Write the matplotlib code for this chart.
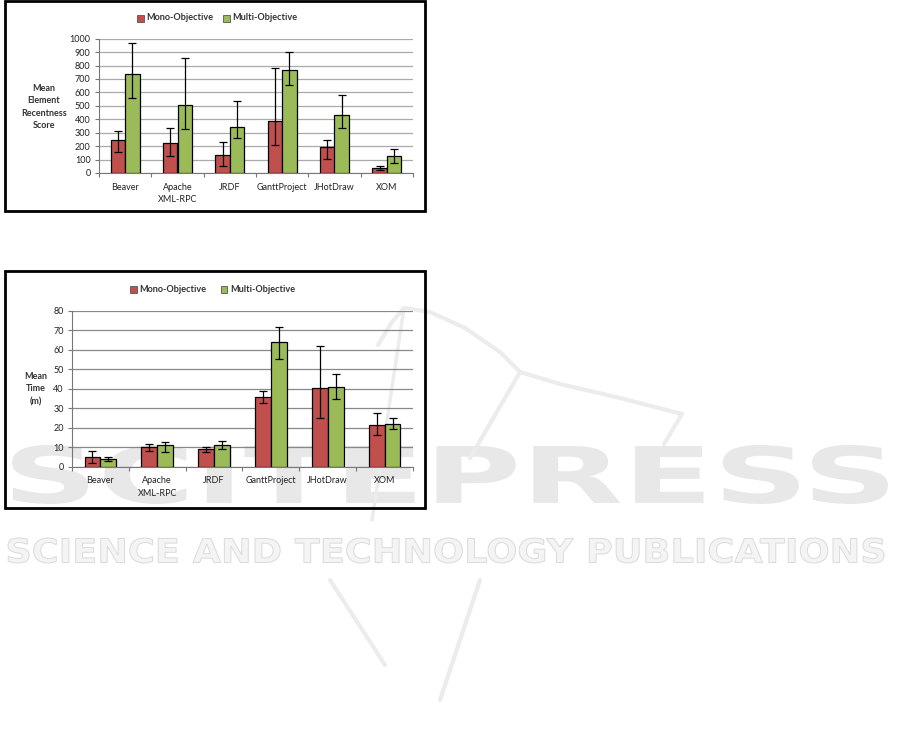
import matplotlib
matplotlib.use("Agg")
import matplotlib.pyplot as plt
import numpy as np
from matplotlib.patches import Rectangle, PathPatch
from matplotlib.textpath import TextPath
from matplotlib.font_manager import FontProperties
from matplotlib.transforms import Affine2D

plt.rcParams['font.family'] = ['Lato', 'DejaVu Sans']

W, H = 901, 735

categories = ["Beaver", "Apache\nXML-RPC", "JRDF", "GanttProject", "JHotDraw", "XOM"]
series_names = ["Mono-Objective", "Multi-Objective"]
colors = ["#C0504D", "#9BBB59"]

# Chart 1: Mean Element Recentness Score
score_mono = [245, 225, 135, 385, 195, 38]
score_mono_lo = [160, 125, 55, 210, 105, 20]
score_mono_hi = [310, 335, 230, 780, 245, 55]
score_multi = [735, 505, 340, 765, 430, 130]
score_multi_lo = [555, 330, 260, 655, 335, 75]
score_multi_hi = [965, 860, 535, 900, 580, 180]
score_ticks = list(range(0, 1001, 100))

# Chart 2: Mean Time (m)
time_mono = [4.8, 10.0, 9.0, 35.5, 40.5, 21.5]
time_mono_lo = [2.0, 8.0, 7.5, 32.5, 25.0, 16.5]
time_mono_hi = [8.0, 11.5, 10.0, 39.0, 62.0, 27.5]
time_multi = [4.2, 11.0, 11.0, 64.0, 41.0, 22.0]
time_multi_lo = [3.0, 7.5, 9.0, 55.0, 34.5, 19.5]
time_multi_hi = [5.0, 12.5, 13.0, 71.5, 47.5, 25.0]
time_ticks = list(range(0, 81, 10))

# Watermark texts
wm_title = "SCITEPRESS"
wm_sub = "SCIENCE AND TECHNOLOGY PUBLICATIONS"

fig = plt.figure(figsize=(W / 100, H / 100), dpi=100)
fig.patch.set_facecolor("white")


def fx(px):
    return px / W


def fy(py):
    return 1 - py / H


# ---- watermark background ----
bg = fig.add_axes([0, 0, 1, 1], zorder=0)
bg.set_xlim(0, W)
bg.set_ylim(H, 0)
bg.axis("off")
wm = "#e8e8e8"


def fitted_text(s, x0, x1, y0, y1, weight, fc, ec, lw):
    tp = TextPath((0, 0), s, size=100, prop=FontProperties(family="DejaVu Sans", weight=weight))
    bb = tp.get_extents()
    tr = Affine2D().translate(-bb.x0, -bb.y0).scale((x1 - x0) / bb.width, -(y1 - y0) / bb.height).translate(x0, y1)
    path = tr.transform_path(tp)
    bg.add_patch(PathPatch(path, facecolor=fc, edgecolor=ec, linewidth=lw))


fitted_text(wm_title, 12, 888, 445, 504, "bold", wm, "none", 0)
fitted_text(wm_sub, 8, 884, 538, 563, "bold", "#f4f4f4", "#dadada", 0.7)

# logo swoosh approximations (faint)
lc = "#ececec"
curve_x = [378, 392, 404, 430, 465, 500, 520, 560, 620, 682]
curve_y = [345, 322, 308, 312, 328, 352, 372, 384, 398, 414]
bg.plot(curve_x, curve_y, color=lc, lw=3, solid_capstyle="round", solid_joinstyle="round")
bg.plot([519, 470], [374, 458], color=lc, lw=3, solid_capstyle="round")
bg.plot([682, 664], [414, 444], color=lc, lw=3, solid_capstyle="round")
bg.plot([404, 372], [308, 520], color=lc, lw=2.5, solid_capstyle="round")
bg.plot([330, 385], [580, 665], color=lc, lw=3, solid_capstyle="round")
bg.plot([480, 440], [580, 700], color=lc, lw=3, solid_capstyle="round")


def draw_chart(ax_rect, mono, mono_lo, mono_hi, multi, multi_lo, multi_hi,
               ticks, ymax, ylabel, ylabel_xy, legend_y, legend_x, box, gridc):
    ax = fig.add_axes(ax_rect, zorder=2)
    ax.patch.set_alpha(0)
    n = len(categories)
    x = np.arange(n)
    bw = 0.28
    mono = np.array(mono); multi = np.array(multi)
    err_mono = [mono - np.array(mono_lo), np.array(mono_hi) - mono]
    err_multi = [multi - np.array(multi_lo), np.array(multi_hi) - multi]
    ax.bar(x - bw / 2, mono, bw, color=colors[0], edgecolor="black", linewidth=0.9, zorder=3)
    ax.bar(x + bw / 2, multi, bw, color=colors[1], edgecolor="black", linewidth=0.9, zorder=3)
    ax.errorbar(x - bw / 2, mono, yerr=err_mono, fmt="none", ecolor="black",
                elinewidth=0.9, capsize=3, capthick=0.9, zorder=4)
    ax.errorbar(x + bw / 2, multi, yerr=err_multi, fmt="none", ecolor="black",
                elinewidth=0.9, capsize=3, capthick=0.9, zorder=4)
    ax.set_xlim(-0.5, n - 0.5)
    ax.set_ylim(0, ymax)
    ax.set_yticks(ticks)
    ax.set_yticklabels([str(t) for t in ticks], fontsize=6.5, color="#222222")
    ax.yaxis.grid(True, color=gridc, linewidth=0.9, zorder=1)
    ax.set_axisbelow(True)
    for s in ["top", "right"]:
        ax.spines[s].set_visible(False)
    ax.spines["left"].set_color("#777777")
    ax.spines["bottom"].set_color("#777777")
    ax.tick_params(axis="y", length=3, width=0.8, color="#777777", pad=3)
    ax.set_xticks(np.arange(n + 1) - 0.5)
    ax.set_xticklabels([])
    ax.set_xticks(x, minor=True)
    ax.set_xticklabels(categories, minor=True, fontsize=6.5, color="#222222",
                       linespacing=1.5)
    ax.tick_params(axis="x", which="major", length=3, width=0.8, color="#777777")
    ax.tick_params(axis="x", which="minor", length=0, pad=7)
    for lab in ax.get_xticklabels(minor=True):
        lab.set_verticalalignment("top")
    fig.text(fx(ylabel_xy[0]), fy(ylabel_xy[1]), ylabel, ha="center", va="center",
             fontsize=6.5, fontweight="bold", color="#333333", linespacing=1.5)
    # legend
    for i, name in enumerate(series_names):
        lx = legend_x[i]
        fig.patches.append(Rectangle((fx(lx - 3.5), fy(legend_y + 3.5)), fx(7), 7 / H,
                                     transform=fig.transFigure, facecolor=colors[i],
                                     edgecolor="#555555", linewidth=0.6))
        fig.text(fx(lx + 6), fy(legend_y), name, ha="left", va="center",
                 fontsize=6.6, fontweight="bold", color="#333333")
    # box
    x0, y0, x1, y1 = box
    fig.patches.append(Rectangle((fx(x0), fy(y1)), fx(x1 - x0), (y1 - y0) / H,
                                 transform=fig.transFigure, fill=False,
                                 edgecolor="black", linewidth=2, zorder=5))
    return ax


draw_chart([fx(99), fy(173), fx(413 - 99), (173 - 38.7) / H],
           score_mono, score_mono_lo, score_mono_hi,
           score_multi, score_multi_lo, score_multi_hi,
           score_ticks, 1000, "Mean\nElement\nRecentness\nScore", (44, 107),
           18, (140, 226), (5, 1, 425, 211), "#aaaaaa")

draw_chart([fx(72), fy(466.7), fx(413 - 72), (466.7 - 310.7) / H],
           time_mono, time_mono_lo, time_mono_hi,
           time_multi, time_multi_lo, time_multi_hi,
           time_ticks, 80, "Mean\nTime\n(m)", (36, 389),
           289, (133, 224), (5, 271, 425, 508), "#888888")

fig.savefig("out.png", dpi=100, facecolor="white")
